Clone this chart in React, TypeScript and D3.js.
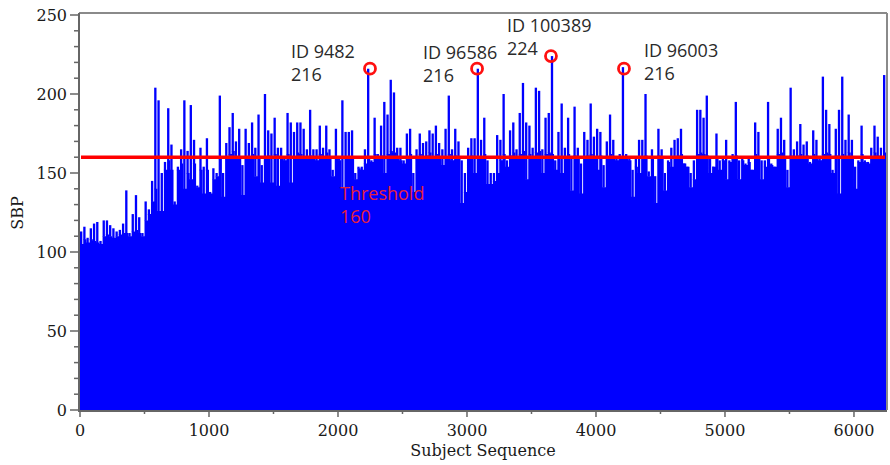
import React from 'react';
import * as d3 from 'd3';

// Each value covers 25 subjects (bin k = subjects 25k..25k+24).
// high = tallest visible needle in the bin, low = top of the solid blue below it.
const BIN = 25;

const highA = [113, 116, 109, 115, 118, 119, 107, 120, 120, 117, 115, 113, 114, 118, 139, 112, 124, 136, 122, 112, 132, 127, 145, 204, 196, 150, 157, 191, 168, 132, 154, 165, 196, 164, 193, 171, 142, 166, 154, 172, 138, 153];
const highB = [150, 199, 150, 169, 179, 188, 170, 178, 155, 178, 169, 182, 166, 187, 155, 200, 177, 175, 185, 166, 166, 160, 188, 182, 176, 182, 182, 178, 165, 190, 165, 165, 180, 166, 180, 165, 152, 178, 160, 196, 176, 176];
const highC = [177, 150, 154, 154, 165, 216, 158, 185, 162, 180, 195, 187, 209, 201, 166, 166, 158, 175, 178, 150, 165, 175, 169, 170, 177, 175, 180, 169, 165, 178, 199, 165, 178, 170, 158, 150, 166, 172, 172, 216, 171, 185];
const highD = [158, 150, 150, 174, 171, 200, 158, 177, 182, 165, 188, 207, 182, 180, 166, 204, 202, 165, 185, 188, 224, 158, 176, 194, 166, 185, 160, 192, 166, 156, 176, 171, 194, 173, 178, 176, 155, 170, 187, 171, 160, 162];
const highE = [217, 162, 160, 152, 160, 171, 171, 200, 151, 165, 148, 178, 165, 150, 158, 166, 171, 172, 178, 156, 154, 150, 158, 190, 190, 185, 199, 160, 154, 175, 158, 160, 171, 158, 162, 195, 158, 160, 156, 159, 152];
const highF = [182, 176, 158, 158, 195, 156, 154, 178, 185, 171, 152, 204, 165, 170, 181, 168, 170, 157, 177, 171, 160, 211, 190, 181, 152, 178, 190, 211, 171, 187, 171, 154, 158, 180, 158, 157, 166, 180, 173, 166, 212];

const lowA = [105, 108, 106, 108, 107, 106, 105, 110, 111, 110, 109, 110, 111, 112, 112, 110, 113, 114, 112, 110, 120, 124, 132, 140, 126, 126, 152, 158, 152, 130, 152, 156, 140, 150, 146, 156, 141, 152, 137, 152, 137, 146];
const lowB = [148, 159, 135, 159, 162, 164, 159, 160, 136, 160, 159, 162, 148, 160, 144, 160, 161, 144, 162, 142, 159, 158, 162, 144, 160, 163, 162, 160, 159, 161, 159, 158, 162, 159, 163, 159, 148, 160, 158, 141, 160, 160];
const lowC = [160, 146, 153, 152, 156, 159, 157, 162, 159, 161, 150, 162, 164, 163, 159, 158, 156, 160, 162, 138, 159, 162, 160, 161, 163, 160, 162, 159, 155, 160, 162, 158, 161, 160, 131, 138, 159, 161, 150, 160, 160, 162];
const lowD = [143, 143, 145, 150, 158, 162, 154, 161, 163, 159, 162, 164, 146, 162, 159, 163, 164, 150, 162, 163, 162, 152, 160, 150, 159, 162, 139, 161, 159, 137, 160, 161, 162, 160, 152, 161, 141, 160, 162, 160, 158, 159];
const lowE = [160, 159, 158, 135, 154, 150, 160, 161, 148, 159, 131, 161, 159, 139, 157, 154, 160, 161, 162, 156, 154, 141, 146, 162, 163, 162, 161, 150, 154, 160, 152, 158, 146, 157, 159, 161, 146, 158, 155, 157, 152];
const lowF = [162, 160, 146, 154, 160, 155, 154, 162, 163, 160, 141, 161, 159, 161, 162, 160, 161, 156, 162, 160, 158, 162, 163, 162, 150, 161, 137, 162, 160, 163, 160, 140, 157, 162, 157, 156, 160, 163, 161, 160, 163];

const highs = [...highA, ...highB, ...highC, ...highD, ...highE, ...highF];
const lows = [...lowA, ...lowB, ...lowC, ...lowD, ...lowE, ...lowF];

const THRESHOLD = 160;

const outlierIds = ['ID 9482', 'ID 96586', 'ID 100389', 'ID 96003'];
const outlierSubjects = [2248, 3078, 3651, 4217];
const outlierSbp = [216, 216, 224, 216];

const yMajor = [0, 50, 100, 150, 200, 250];
const xMajor = [0, 1000, 2000, 3000, 4000, 5000, 6000];

export default function App() {
  const W = 890;
  const H = 465;
  const left = 80, right = 887, top = 13, bottom = 410;

  const x = d3.scaleLinear().domain([0, 6256]).range([left, right]);
  const y = d3.scaleLinear().domain([0, 250]).range([bottom, 15]);

  const bins = highs.map((h, i) => ({ s: i * BIN, high: h, low: Math.min(lows[i], h) }));

  // solid part under every bin
  const base = d3.area<{ s: number; low: number }>()
    .x(d => x(d.s))
    .y0(y(0))
    .y1(d => y(d.low))
    .curve(d3.curveStepAfter);
  const baseData = [...bins, { s: bins.length * BIN, low: bins[bins.length - 1].low, high: 0 }];

  const binW = x(BIN) - x(0);
  const needleW = binW * 0.72;

  const yMinor = d3.range(0, 251, 10).filter(v => v % 50 !== 0);
  const xMinor = d3.range(500, 6256, 1000);

  // label placement around each circled outlier
  const labelPos = [
    { dx: -79, dy: -11 },
    { dx: -54, dy: -10 },
    { dx: -44, dy: -24 },
    { dx: 20, dy: -12 },
  ];

  const axisColor = '#666';
  const tickFont = { fontFamily: '"DejaVu Serif", serif', fontSize: 16, fill: '#1a1a1a' };
  const noteFont = { fontFamily: '"Open Sans", sans-serif', fontSize: 18, fill: '#2a2a2a' };

  return (
    <svg width={W} height={H} style={{ position: 'absolute', left: 0, top: 0, background: '#fff' }}>
      <defs>
        <clipPath id="plot">
          <rect x={left} y={top} width={right - left} height={bottom - top + 1} />
        </clipPath>
      </defs>

      <g clipPath="url(#plot)">
        <path d={base(baseData) || ''} fill="#0000ff" />
        {bins.map((b, i) => (
          <rect
            key={i}
            x={x(b.s)}
            y={y(b.high)}
            width={needleW}
            height={Math.max(0, y(b.low) - y(b.high)) + 0.5}
            fill="#0000ff"
          />
        ))}
      </g>

      {/* frame */}
      <line x1={left - 1} x2={right} y1={top} y2={top} stroke="#8a8a8a" strokeWidth={2} />
      <line x1={right} x2={right} y1={top} y2={bottom} stroke="#8a8a8a" strokeWidth={2} />

      {/* threshold */}
      <line x1={left + 1} x2={right - 2} y1={y(THRESHOLD)} y2={y(THRESHOLD)} stroke="#ff0000" strokeWidth={3.5} />
      <text x={340} y={200} style={{ ...noteFont, fill: '#e8203a', fontSize: 18 }}>Threshold</text>
      <text x={340} y={223} style={{ ...noteFont, fill: '#e8203a', fontSize: 18 }}>{THRESHOLD}</text>

      {/* outliers */}
      {outlierIds.map((id, i) => {
        const cx = x(outlierSubjects[i]);
        const cy = y(outlierSbp[i]);
        const p = labelPos[i];
        return (
          <g key={id}>
            <circle cx={cx} cy={cy} r={5.5} fill="none" stroke="#ff1010" strokeWidth={2.8} />
            <text x={cx + p.dx} y={cy + p.dy} style={noteFont}>{id}</text>
            <text x={cx + p.dx} y={cy + p.dy + 23} style={noteFont}>{outlierSbp[i]}</text>
          </g>
        );
      })}

      {/* y axis */}
      <line x1={79} x2={79} y1={top} y2={bottom + 1} stroke={axisColor} strokeWidth={2} />
      {yMinor.map(v => (
        <line key={v} x1={74} x2={79} y1={y(v)} y2={y(v)} stroke={axisColor} strokeWidth={1.5} />
      ))}
      {yMajor.map(v => (
        <g key={v}>
          <line x1={70} x2={79} y1={y(v)} y2={y(v)} stroke={axisColor} strokeWidth={1.5} />
          <text x={67} y={y(v)} dy="0.36em" textAnchor="end" style={tickFont}>{v}</text>
        </g>
      ))}
      <text
        transform={`translate(23,${213}) rotate(-90)`}
        textAnchor="middle"
        style={tickFont}
      >SBP</text>

      {/* x axis */}
      <line x1={78} x2={right} y1={411} y2={411} stroke={axisColor} strokeWidth={2} />
      {xMinor.map(v => (
        <line key={v} x1={x(v)} x2={x(v)} y1={411} y2={414} stroke={axisColor} strokeWidth={1.5} />
      ))}
      {xMajor.map(v => (
        <g key={v}>
          <line x1={x(v)} x2={x(v)} y1={411} y2={417} stroke={axisColor} strokeWidth={1.5} />
          <text x={x(v)} y={436} textAnchor="middle" style={tickFont}>{v}</text>
        </g>
      ))}
      <text x={483} y={456} textAnchor="middle" style={tickFont}>Subject Sequence</text>
    </svg>
  );
}
